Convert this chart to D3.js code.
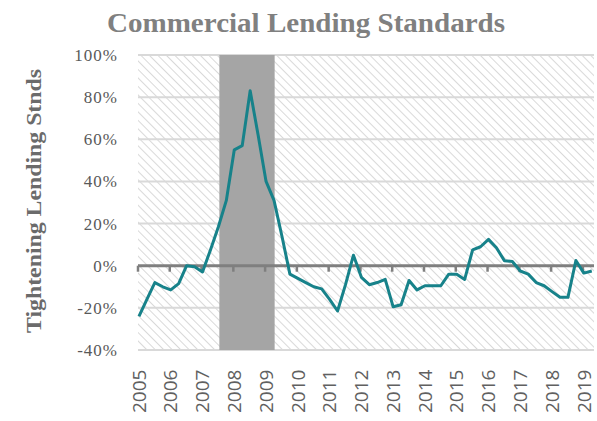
<!DOCTYPE html>
<html>
<head>
<meta charset="utf-8">
<script src="https://cdn.jsdelivr.net/npm/d3@7"></script>
<style>
  html, body { margin: 0; padding: 0; background: #fff; }
  svg { display: block; }
</style>
</head>
<body>
<svg id="chart" width="597" height="421"></svg>
<script>
// quarterly readings, 2005 Q1 .. 2019 Q2
const startYear = 2005;
const values = [
  -24, -16, -8, -10, -11.5, -8.5, 0, -0.5,
  -3, 7.5, 18.5, 31, 55, 57, 83, 62,
  40, 31, 14, -4, -6, -8, -10, -11,
  -16, -21.5, -9, 5, -5.5, -9, -8, -6.5,
  -19.5, -18.5, -7, -11.5, -9.5, -9.5, -9.5, -4,
  -4, -6.5, 7.5, 9, 12.5, 8.5, 2.4, 2,
  -2.5, -4, -8, -9.5, -12.3, -15, -15, 2.5,
  -3.5, -2.5
];
const yearTicks = d3.range(2005, 2020);
const yTicks = [-40, -20, 0, 20, 40, 60, 80, 100];
const recession = [2007.56, 2009.3];

const svg = d3.select("#chart");
const m = { l: 138, r: 3, t: 55, b: 71 };
const W = 597, H = 421;

const x = d3.scaleLinear().domain([2005, 2019.35]).range([m.l, W - m.r]);
const y = d3.scaleLinear().domain([-40, 100]).range([H - m.b, m.t]);

const defs = svg.append("defs");
const pat = defs.append("pattern")
  .attr("id", "hatch")
  .attr("patternUnits", "userSpaceOnUse")
  .attr("width", 6)
  .attr("height", 6)
  .attr("patternTransform", "rotate(-45)");
pat.append("line")
  .attr("x1", 0).attr("y1", 0).attr("x2", 0).attr("y2", 6)
  .attr("stroke", "#d0d0d0")
  .attr("stroke-width", 1.6);

// hatched plot background
svg.append("rect")
  .attr("x", x.range()[0])
  .attr("y", y(100))
  .attr("width", x.range()[1] - x.range()[0])
  .attr("height", y(-40) - y(100))
  .attr("fill", "url(#hatch)");

// gridlines
svg.append("g")
  .selectAll("line")
  .data(yTicks.filter(d => d !== 0))
  .join("line")
  .attr("x1", x.range()[0])
  .attr("x2", x.range()[1])
  .attr("y1", d => y(d))
  .attr("y2", d => y(d))
  .attr("stroke", "#d9d9d9")
  .attr("stroke-width", 2);

// recession bar
svg.append("rect")
  .attr("x", x(recession[0]))
  .attr("y", y(100))
  .attr("width", x(recession[1]) - x(recession[0]))
  .attr("height", y(-40) - y(100))
  .attr("fill", "#a5a5a5");

// zero axis with year ticks
const xAxis = svg.append("g").attr("transform", `translate(0,${y(0)})`);
xAxis.append("line")
  .attr("x1", x.range()[0])
  .attr("x2", x.range()[1])
  .attr("stroke", "#7f7f7f")
  .attr("stroke-width", 3);
xAxis.selectAll("line.tk")
  .data(yearTicks)
  .join("line")
  .attr("class", "tk")
  .attr("x1", d => x(d))
  .attr("x2", d => x(d))
  .attr("y1", 0)
  .attr("y2", 6)
  .attr("stroke", "#7f7f7f")
  .attr("stroke-width", 2.5);

// series
const line = d3.line()
  .x((d, i) => x(startYear + i / 4 + 0.03))
  .y(d => y(d));
svg.append("path")
  .datum(values)
  .attr("fill", "none")
  .attr("stroke", "#17828a")
  .attr("stroke-width", 3)
  .attr("stroke-linejoin", "round")
  .attr("d", line);

// y tick labels
svg.append("g")
  .selectAll("text")
  .data(yTicks)
  .join("text")
  .attr("x", 118)
  .attr("y", d => y(d))
  .attr("dy", "0.35em")
  .attr("text-anchor", "end")
  .attr("font-family", "'Liberation Serif', serif")
  .attr("font-size", 17)
  .attr("letter-spacing", 1)
  .attr("fill", "#595959")
  .text(d => d + "%");

// x tick labels (rotated)
svg.append("g")
  .selectAll("text")
  .data(yearTicks)
  .join("text")
  .attr("transform", d => `translate(${x(d) + 1},413) rotate(-90)`)
  .attr("dy", "0.35em")
  .attr("font-family", "'Open Sans', sans-serif")
  .attr("font-size", 19)
  .attr("fill", "#606060")
  .text(d => d);

// y axis title
svg.append("text")
  .attr("transform", `translate(34,201) rotate(-90)`)
  .attr("dy", "0.35em")
  .attr("text-anchor", "middle")
  .attr("font-family", "'Liberation Serif', serif")
  .attr("font-weight", "bold")
  .attr("font-size", 20)
  .attr("fill", "#6b6b6b")
  .attr("textLength", 264)
  .attr("lengthAdjust", "spacingAndGlyphs")
  .text("Tightening Lending Stnds");

// chart title
svg.append("text")
  .attr("x", 306)
  .attr("y", 32)
  .attr("text-anchor", "middle")
  .attr("font-family", "'Liberation Serif', serif")
  .attr("font-weight", "bold")
  .attr("font-size", 28)
  .attr("fill", "#808080")
  .attr("textLength", 398)
  .attr("lengthAdjust", "spacingAndGlyphs")
  .text("Commercial Lending Standards");
</script>
</body>
</html>
